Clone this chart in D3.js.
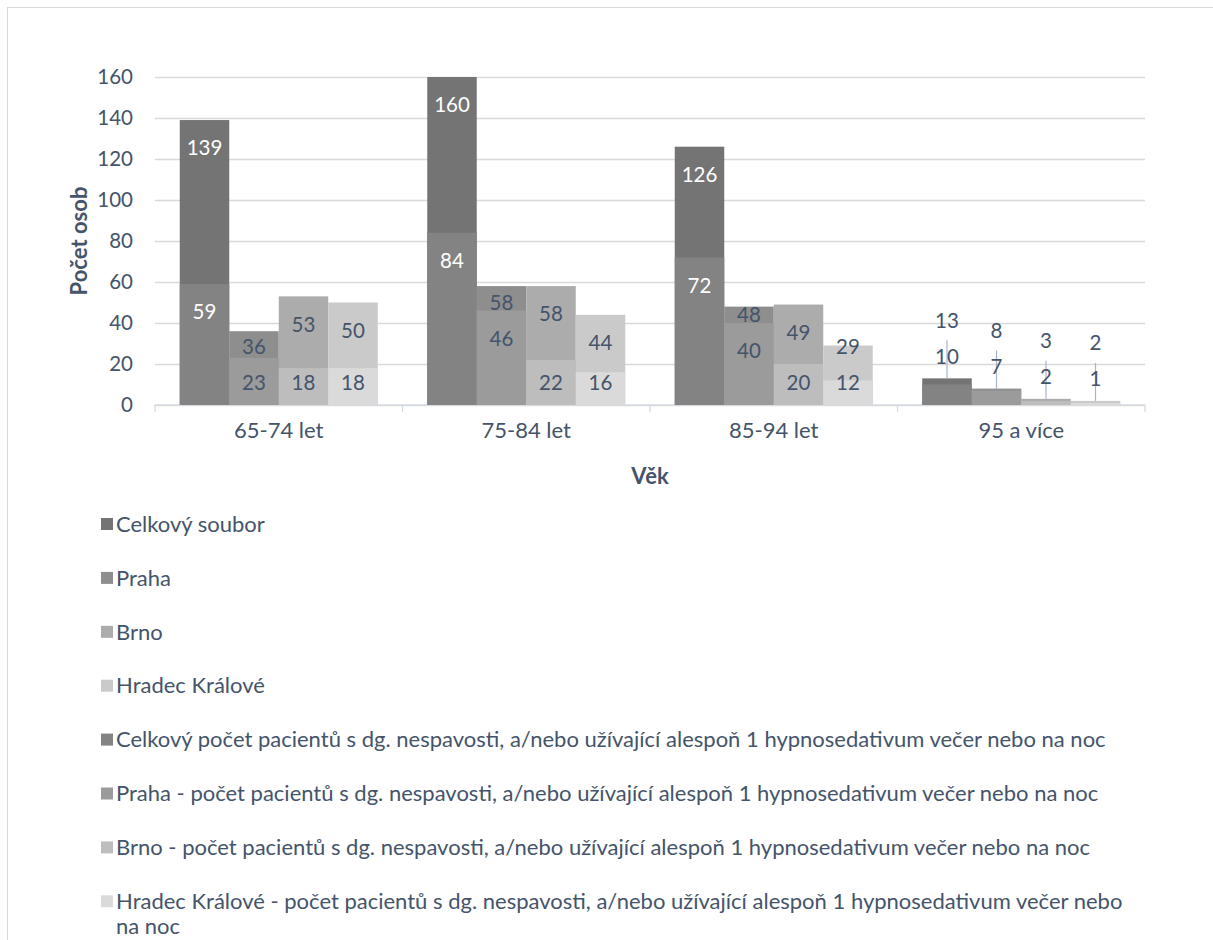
<!DOCTYPE html>
<html>
<head>
<meta charset="utf-8">
<script src="https://cdn.jsdelivr.net/npm/d3@7"></script>
<style>
  body { margin: 0; background: #fff; }
  text { font-family: Lato, "Open Sans", sans-serif; }
</style>
</head>
<body>
<div id="chart"></div>
<script>
// categories and values
var categories = ["65-74 let", "75-84 let", "85-94 let", "95 a více"];
var celkem = [139, 160, 126, 13];
var praha = [36, 58, 48, 8];
var brno = [53, 58, 49, 3];
var hradec = [50, 44, 29, 2];
var celkemNesp = [59, 84, 72, 10];
var prahaNesp = [23, 46, 40, 7];
var brnoNesp = [18, 22, 20, 2];
var hradecNesp = [18, 16, 12, 1];
var yTicks = [0, 20, 40, 60, 80, 100, 120, 140, 160];

var groups = ["Celkový soubor", "Praha", "Brno", "Hradec Králové"];
var subNames = [
  "Celkový počet pacientů s dg. nespavosti, a/nebo užívající alespoň 1 hypnosedativum večer nebo na noc",
  "Praha - počet pacientů s dg. nespavosti, a/nebo užívající alespoň 1 hypnosedativum večer nebo na noc",
  "Brno - počet pacientů s dg. nespavosti, a/nebo užívající alespoň 1 hypnosedativum večer nebo na noc",
  "Hradec Králové - počet pacientů s dg. nespavosti, a/nebo užívající alespoň 1 hypnosedativum večer nebo na noc"
];
var totals = [celkem, praha, brno, hradec];
var subs = [celkemNesp, prahaNesp, brnoNesp, hradecNesp];

var totalColors = ["#747474", "#8e8e8e", "#acacac", "#cacaca"];
var subColors = ["#838383", "#9b9b9b", "#bdbdbd", "#dadada"];
var textColor = "#44546a";
var fontSize = 22;   // words
var numSize = 20.5;  // numbers

var W = 1213, H = 940;
var plot = {left: 155, right: 1145, top: 77, bottom: 405};

var svg = d3.select("#chart").append("svg")
  .attr("width", W).attr("height", H);

// chart frame
svg.append("rect")
  .attr("x", 7.5).attr("y", 7.5)
  .attr("width", 1230).attr("height", 1000)
  .attr("fill", "none").attr("stroke", "#d9d9d9");

var y = d3.scaleLinear().domain([0, 160]).range([plot.bottom, plot.top]);
var x0 = d3.scaleBand().domain(categories)
  .range([plot.left, plot.right])
  .paddingInner(0.2).paddingOuter(0.1);
var x1 = d3.scaleBand().domain(groups).range([0, x0.bandwidth()]);

// gridlines + y tick labels
var yAxis = svg.append("g")
  .attr("transform", "translate(" + plot.left + ",0)")
  .call(d3.axisLeft(y).tickValues(yTicks).tickSize(-(plot.right - plot.left)).tickPadding(22));
yAxis.select(".domain").remove();
yAxis.selectAll(".tick line").attr("stroke", "#d9d9d9").attr("stroke-width", 1.3);
yAxis.selectAll(".tick text")
  .attr("fill", textColor).style("font-size", numSize + "px");

// x axis baseline and boundary ticks
var step = x0.step();
var bounds = d3.range(categories.length + 1).map(function(i) { return plot.left + i * step; });
svg.append("line")
  .attr("x1", plot.left).attr("x2", plot.right)
  .attr("y1", y(0)).attr("y2", y(0))
  .attr("stroke", "#d6dce4").attr("stroke-width", 1.3);
svg.selectAll(".bound").data(bounds).enter().append("line")
  .attr("x1", function(d) { return d; }).attr("x2", function(d) { return d; })
  .attr("y1", y(0)).attr("y2", y(0) + 7)
  .attr("stroke", "#d6dce4").attr("stroke-width", 1.3);

var xAxis = svg.append("g")
  .attr("transform", "translate(0," + y(0) + ")")
  .call(d3.axisBottom(x0).tickSize(0).tickPadding(17));
xAxis.select(".domain").remove();
xAxis.selectAll(".tick text")
  .attr("fill", textColor).style("font-size", fontSize + "px");

// axis titles
svg.append("text")
  .attr("transform", "translate(79," + ((plot.top + plot.bottom) / 2) + ") rotate(-90)")
  .attr("text-anchor", "middle").attr("dy", "0.35em")
  .attr("fill", textColor).attr("font-weight", "bold")
  .style("font-size", fontSize + "px")
  .text("Počet osob");
svg.append("text")
  .attr("x", (plot.left + plot.right) / 2).attr("y", 476)
  .attr("text-anchor", "middle").attr("dy", "0.35em")
  .attr("fill", textColor).attr("font-weight", "bold")
  .style("font-size", fontSize + "px")
  .text("Věk");

// bars: totals behind, sub counts in front on the same spot
var rows = [];
categories.forEach(function(c, ci) {
  groups.forEach(function(g, gi) {
    rows.push({cat: c, gi: gi, g: g, total: totals[gi][ci], sub: subs[gi][ci]});
  });
});

var bars = svg.append("g");
bars.selectAll(".tot").data(rows).enter().append("rect")
  .attr("x", function(d) { return x0(d.cat) + x1(d.g); })
  .attr("width", x1.bandwidth())
  .attr("y", function(d) { return y(d.total); })
  .attr("height", function(d) { return y(0) - y(d.total); })
  .attr("fill", function(d) { return totalColors[d.gi]; });
bars.selectAll(".sub").data(rows).enter().append("rect")
  .attr("x", function(d) { return x0(d.cat) + x1(d.g); })
  .attr("width", x1.bandwidth())
  .attr("y", function(d) { return y(d.sub); })
  .attr("height", function(d) { return y(0) - y(d.sub); })
  .attr("fill", function(d) { return subColors[d.gi]; });

// label positions (inside end, pushed apart when crowded; outside for tiny bars)
rows.forEach(function(d) {
  d.cx = x0(d.cat) + x1(d.g) + x1.bandwidth() / 2;
  if (y(0) - y(d.total) < 40) {
    d.outside = true;
    d.subY = y(d.total) - 22;
    d.totY = y(d.total) - 58;
  } else {
    d.outside = false;
    d.subY = Math.min(y(d.sub) + 28, y(0) - 22);
    d.totY = Math.min(y(d.total) + 28, d.subY - 36);
  }
});

var labels = svg.append("g");
labels.selectAll(".leader").data(rows.filter(function(d) { return d.outside; })).enter().append("line")
  .attr("x1", function(d) { return d.cx; }).attr("x2", function(d) { return d.cx; })
  .attr("y1", function(d) { return d.totY + 20; })
  .attr("y2", function(d) { return y(d.total); })
  .attr("stroke", "#a6b4c8").attr("stroke-width", 1.2);

function labelColor(d) {
  return (d.gi === 0 && !d.outside) ? "#ffffff" : textColor;
}
labels.selectAll(".ltot").data(rows).enter().append("text")
  .attr("x", function(d) { return d.cx; })
  .attr("y", function(d) { return d.totY; })
  .attr("dy", "0.35em").attr("text-anchor", "middle")
  .attr("fill", labelColor).style("font-size", numSize + "px")
  .text(function(d) { return d.total; });
labels.selectAll(".lsub").data(rows).enter().append("text")
  .attr("x", function(d) { return d.cx; })
  .attr("y", function(d) { return d.subY; })
  .attr("dy", "0.35em").attr("text-anchor", "middle")
  .attr("fill", labelColor).style("font-size", numSize + "px")
  .text(function(d) { return d.sub; });

// legend, one entry per row
var legendItems = groups.map(function(g, i) { return {name: g, color: totalColors[i]}; })
  .concat(subNames.map(function(n, i) { return {name: n, color: subColors[i]}; }));
var legend = svg.append("g");
var maxW = 1020;
legendItems.forEach(function(item, i) {
  var cy = 524 + i * 53.9;
  legend.append("rect")
    .attr("x", 101).attr("y", cy - 6)
    .attr("width", 12).attr("height", 12)
    .attr("fill", item.color);
  var t = legend.append("text")
    .attr("x", 116).attr("y", cy).attr("dy", "0.35em")
    .attr("fill", textColor).style("font-size", fontSize + "px");
  // simple word wrap
  var words = item.name.split(" ");
  var line = [];
  var ts = t.append("tspan").attr("x", 116);
  words.forEach(function(w) {
    line.push(w);
    ts.text(line.join(" "));
    if (ts.node().getComputedTextLength() > maxW && line.length > 1) {
      line.pop();
      ts.text(line.join(" "));
      line = [w];
      ts = t.append("tspan").attr("x", 116).attr("dy", "1.15em").text(w);
    }
  });
});
</script>
</body>
</html>
